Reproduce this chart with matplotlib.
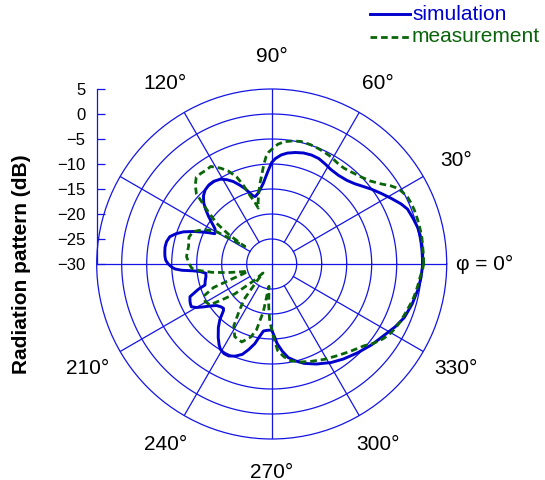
import numpy as np
import matplotlib
matplotlib.use("Agg")
import matplotlib.pyplot as plt
from matplotlib.lines import Line2D

plt.rcParams["font.family"] = ["Liberation Sans", "DejaVu Sans"]

# Radiation pattern in dB versus azimuth angle (degrees)
sim_angle = [0, 5, 10, 14, 18, 22, 25, 29, 33, 37,
             41, 44, 48, 53, 58, 62, 66, 70, 74, 78,
             82, 85, 88, 90, 92, 94, 96, 98.5, 101, 103,
             104, 105.5, 107, 109.5, 112, 115, 118, 121, 125, 128.5,
             132, 135, 138, 140.5, 143, 145.5, 148, 150, 152, 153.5,
             155, 157.5, 160, 162.5, 165, 168, 171, 174, 176, 178,
             180, 182, 183, 184, 185, 186, 188, 191, 194, 197.5,
             199, 201.8, 204, 206, 208, 210, 212, 214.5, 217, 220,
             222.5, 224, 227, 230, 234, 237, 239, 242, 245, 248.5,
             252, 255, 258, 260.5, 263, 266, 270, 272, 274, 277,
             280, 284, 288, 294, 301, 307, 314, 321, 328, 333,
             338, 344, 350, 355, 360]
sim_db = [0.2, 0.3, 0.3, 0.1, -0.3, -0.7, -1.5, -2.8, -4.0, -5.1,
          -6.2, -6.9, -7.5, -7.8, -7.7, -7.3, -6.9, -6.8, -6.9, -7.2,
          -7.6, -8.1, -8.9, -9.7, -11.2, -12.6, -13.8, -14.8, -15.6, -16.0,
          -16.1, -15.8, -15.2, -14.0, -13.0, -11.8, -10.9, -10.2, -9.8, -9.8,
          -10.1, -10.7, -11.7, -12.9, -14.2, -15.5, -16.6, -17.0, -17.1, -16.0,
          -14.9, -13.0, -11.2, -9.9, -8.9, -8.5, -8.4, -8.5, -8.6, -8.8,
          -9.3, -10.1, -10.7, -12.0, -14.3, -15.6, -16.7, -16.6, -16.3, -16.0,
          -14.5, -12.4, -12.1, -11.9, -11.8, -12.6, -13.8, -15.2, -16.2, -16.7,
          -16.9, -16.6, -14.8, -13.4, -11.8, -10.7, -10.1, -9.7, -9.7, -10.2,
          -11.0, -12.3, -13.7, -15.3, -16.5, -16.7, -16.8, -15.6, -14.0, -12.4,
          -11.0, -10.0, -9.1, -8.1, -7.0, -6.2, -5.3, -4.3, -3.3, -2.3,
          -1.4, -0.8, -0.3, 0.0, 0.2]

meas_angle = [0, 3, 6.5, 10, 14, 17.5, 21, 24, 26, 28.5,
              31, 33.5, 36, 40, 44, 48.5, 53, 57, 61, 64.5,
              68, 72, 76.5, 80, 84, 87, 89.5, 91.5, 93, 94.5,
              96, 98, 100, 102, 103.5, 105.5, 107.5, 110, 112, 115,
              118, 122, 125, 128, 131, 134, 137, 140.5, 143.5, 145.5,
              147, 148.5, 149.6, 153, 157.6, 162, 168, 175, 180, 183,
              185, 188, 191, 194, 197, 199, 200.5, 202, 205, 209.5,
              213.5, 216, 219, 223, 226, 229, 232, 236, 238.5, 243,
              249, 254, 257, 260, 263, 266, 268, 270, 272, 274,
              277.5, 281, 286, 292, 299, 306, 312, 318.6, 322, 326,
              329, 332, 336, 340, 344, 347, 351, 355, 358, 360]
meas_db = [0.4, 0.4, 0.4, 0.5, 0.5, 0.5, 0.5, 0.4, 0.3, -0.1,
           -0.6, -1.6, -2.8, -4.2, -5.0, -5.6, -6.0, -5.9, -5.5, -5.3,
           -5.1, -4.9, -4.8, -5.0, -5.4, -6.0, -6.9, -7.6, -8.5, -10.0,
           -11.7, -13.5, -15.3, -17.0, -18.5, -17.0, -15.7, -13.0, -11.2, -9.5,
           -8.3, -7.0, -7.1, -7.0, -7.0, -8.0, -9.4, -13.5, -16.3, -19.5,
           -23.6, -20.5, -17.2, -14.8, -13.0, -12.6, -13.0, -12.9, -13.5, -14.0,
           -15.3, -18.0, -21.0, -23.5, -25.0, -24.0, -21.8, -17.5, -15.2, -14.7,
           -15.2, -18.0, -20.5, -25.0, -27.5, -25.5, -21.0, -18.0, -15.5, -13.7,
           -13.3, -14.8, -16.5, -20.3, -25.5, -21.5, -18.5, -17.0, -14.8, -12.6,
           -11.3, -10.3, -9.6, -9.0, -8.2, -7.4, -6.5, -5.3, -4.2, -3.2,
           -2.6, -2.2, -1.8, -1.5, -1.1, -0.8, -0.5, -0.2, 0.2, 0.4]

r_ticks = [-30, -25, -20, -15, -10, -5, 0, 5]
angle_ticks = [0, 30, 60, 90, 120, 150, 180, 210, 240, 270, 300, 330]
angle_labels = ["φ = 0°", "30°", "60°", "90°", "120°", "", "", "210°",
                "240°", "270°", "300°", "330°"]

GRID = "#1414e6"
SIM_C = "#0000cc"
MEAS_C = "#0a640a"

W, H = 545, 480
fig = plt.figure(figsize=(W / 100, H / 100), dpi=100)

cx, cy, R = 271.7, 264.0, 175.0
ax = fig.add_axes([(cx - R) / W, (H - cy - R) / H, 2 * R / W, 2 * R / H],
                  projection="polar")
rmin, rmax = r_ticks[0], r_ticks[-1]
ax.set_ylim(rmin, rmax)
ax.set_theta_zero_location("E")
ax.grid(False)
ax.set_xticks([])
ax.set_yticks([])
ax.spines["polar"].set_color(GRID)
ax.spines["polar"].set_linewidth(0.9)

# concentric rings
th = np.linspace(0, 2 * np.pi, 361)
for r in r_ticks[1:-1]:
    ax.plot(th, np.full_like(th, r), color=GRID, lw=0.9, zorder=1)
# spokes: axes lines cross the centre, the others start at the first ring
for a in angle_ticks:
    t = np.deg2rad(a)
    start = rmin if a % 90 == 0 else r_ticks[1]
    ax.plot([t, t], [start, rmax], color=GRID, lw=0.9, zorder=1)

# angle labels, offset outward from the rim
for a, lab in zip(angle_ticks, angle_labels):
    if lab:
        t = np.deg2rad(a)
        ax.annotate(lab, xy=(t, rmax),
                    xytext=(38 * np.cos(t), 33 * np.sin(t)),
                    textcoords="offset pixels", ha="center", va="center",
                    fontsize=15, annotation_clip=False)

ax.plot(np.deg2rad(sim_angle), sim_db, color=SIM_C, lw=2.1, zorder=3,
        solid_joinstyle="round")
ax.plot(np.deg2rad(meas_angle), meas_db, color=MEAS_C, lw=2.0,
        dashes=(2.4, 1.4), zorder=4, dash_joinstyle="round")

# radial dB scale on the left
sc = fig.add_axes([(cx - R) / W, (H - cy) / H, 0.02, R / H])
sc.set_ylim(rmin, rmax)
sc.set_yticks(r_ticks)
sc.set_xticks([])
sc.patch.set_visible(False)
for s in ["top", "right", "bottom"]:
    sc.spines[s].set_visible(False)
sc.spines["left"].set_color(GRID)
sc.spines["left"].set_linewidth(0.9)
sc.tick_params(axis="y", direction="in", length=6, width=0.9, color=GRID,
               labelsize=12, pad=8)

fig.text(22 / W, (H - 264) / H, "Radiation pattern (dB)", rotation=90,
         ha="center", va="center", fontsize=15, fontweight="bold")

# legend
lx0, lx1, tx = 370 / W, 410 / W, 412 / W
fig.add_artist(Line2D([lx0, lx1], [(H - 14) / H] * 2, color=SIM_C, lw=2.1,
                      transform=fig.transFigure))
fig.add_artist(Line2D([lx0, lx1], [(H - 37) / H] * 2, color=MEAS_C, lw=2.0,
                      dashes=(2.4, 1.4), transform=fig.transFigure))
fig.text(tx, (H - 14) / H, "simulation", color=SIM_C, fontsize=15,
         ha="left", va="center")
fig.text(tx, (H - 37) / H, "measurement", color=MEAS_C, fontsize=15,
         ha="left", va="center")

fig.savefig("out.png", dpi=100)
